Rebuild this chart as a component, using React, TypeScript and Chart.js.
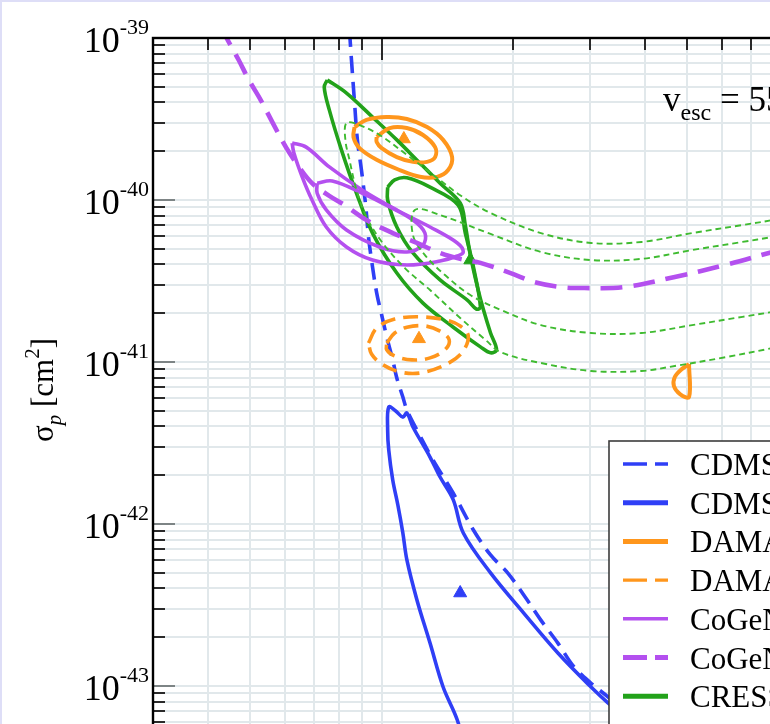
import { useEffect, useRef } from "react";
import { Chart, registerables } from "chart.js";

Chart.register(...registerables);

type Pair = [number, number];

// ---- axis ranges and ticks ----
const MASS_MIN = 3;
const MASS_MAX = 100;
const SIGMA_MIN = 1e-45;
const SIGMA_MAX = 1e-39;
const MASS_TICKS = [3, 4, 5, 6, 7, 8, 9, 10, 20, 30, 40, 50, 60, 70, 80, 90, 100];
const SIGMA_DECADES = [-39, -40, -41, -42, -43, -44, -45];
const SIGMA_MANTISSAS = [1, 2, 3, 4, 5, 6, 7, 8, 9];

// ---- CDMS-Si ----
const CDMS_DASHED: Pair[] = [
  [8.44, 1.12e-39], [8.53, 7.31e-40], [8.67, 3.97e-40], [8.8, 2.35e-40], [8.99, 1.53e-40],
  [9.19, 9.31e-41], [9.33, 5.91e-41], [9.48, 4.26e-41], [9.74, 2.67e-41], [10.0, 1.95e-41],
  [10.27, 1.43e-41], [10.6, 1.03e-41], [10.83, 7.96e-42], [11.18, 6.08e-42], [11.42, 5.06e-42],
  [12.04, 3.8e-42], [13.11, 2.48e-42], [14.58, 1.55e-42], [16.21, 9.18e-43], [17.74, 6.44e-43],
  [19.41, 4.99e-43], [21.13, 3.65e-43], [23.12, 2.55e-43], [25.29, 1.84e-43], [27.54, 1.31e-43],
  [30.11, 1.04e-43], [32.96, 8.55e-44], [39.28, 5.74e-44], [54.0, 3.03e-44],
];
const CDMS_SOLID: Pair[] = [
  [15.78, 3.49e-44], [14.89, 6.17e-44], [13.82, 9.86e-44], [12.9, 1.84e-43], [12.04, 3.4e-43],
  [11.42, 6.0e-43], [11.18, 8.8e-43], [10.89, 1.31e-42], [10.6, 1.87e-42], [10.38, 2.86e-42],
  [10.32, 3.8e-42], [10.38, 5.28e-42], [10.77, 4.98e-42], [11.18, 4.57e-42], [11.42, 4.84e-42],
  [11.79, 3.97e-42], [12.9, 2.59e-42], [13.6, 1.95e-42], [14.58, 1.41e-42], [15.37, 8.8e-43],
  [17.74, 4.99e-43], [21.13, 2.82e-43], [25.29, 1.6e-43], [30.11, 9.86e-44], [32.96, 7.85e-44],
  [41.45, 4.64e-44], [54.0, 2.82e-44],
];
const CDMS_BEST: Pair = [15.12, 3.75e-43];

// ---- DAMA ----
const DAMA_OUTER: Pair[] = [
  [8.67, 2.82e-40], [9.23, 3.12e-40], [10.27, 3.25e-40], [11.42, 3.16e-40], [12.7, 2.82e-40],
  [13.82, 2.35e-40], [14.49, 1.84e-40], [14.19, 1.53e-40], [13.39, 1.39e-40], [12.23, 1.39e-40],
  [11.0, 1.53e-40], [9.74, 1.77e-40], [8.9, 2.09e-40], [8.62, 2.45e-40], [8.67, 2.82e-40],
];
const DAMA_INNER: Pair[] = [
  [9.74, 2.45e-40], [10.43, 2.78e-40], [11.42, 2.78e-40], [12.43, 2.52e-40], [13.25, 2.12e-40],
  [13.25, 1.84e-40], [12.7, 1.72e-40], [11.79, 1.72e-40], [10.83, 1.84e-40], [10.0, 2.09e-40],
  [9.74, 2.28e-40], [9.74, 2.45e-40],
];
const DAMA_HIGH: Pair[] = [
  [50.45, 9.72e-42], [50.45, 6.08e-42], [48.1, 6.34e-42], [46.58, 7.11e-42], [46.8, 8.08e-42],
  [48.3, 8.93e-42], [50.45, 9.72e-42],
];
const DAMA_BEST: Pair = [11.24, 2.38e-40];

const DAMA_ALT_OUTER: Pair[] = [
  [9.33, 1.31e-41], [9.74, 1.62e-41], [10.71, 1.84e-41], [12.23, 1.9e-41], [13.96, 1.82e-41],
  [15.12, 1.67e-41], [15.78, 1.45e-41], [15.29, 1.15e-41], [13.96, 9.58e-42], [12.23, 8.55e-42],
  [11.0, 8.68e-42], [10.0, 9.72e-42], [9.48, 1.12e-41], [9.33, 1.31e-41],
];
const DAMA_ALT_INNER: Pair[] = [
  [10.27, 1.31e-41], [10.71, 1.51e-41], [11.42, 1.64e-41], [12.56, 1.67e-41], [13.6, 1.55e-41],
  [14.27, 1.37e-41], [13.96, 1.19e-41], [12.9, 1.06e-41], [11.73, 1.03e-41], [10.71, 1.09e-41],
  [10.27, 1.19e-41], [10.27, 1.31e-41],
];
const DAMA_ALT_BEST: Pair = [12.17, 1.39e-41];

// ---- CoGeNT ----
const COGENT_OUTER: Pair[] = [
  [6.24, 2.25e-40], [6.72, 2.12e-40], [7.59, 1.6e-40], [9.04, 1.15e-40], [10.83, 8.68e-41],
  [12.9, 6.81e-41], [14.89, 5.43e-41], [15.37, 4.78e-41], [14.89, 4.51e-41], [13.6, 4.2e-41],
  [11.42, 3.97e-41], [9.53, 4.26e-41], [8.31, 5.13e-41], [7.47, 6.81e-41], [6.93, 1.0e-40],
  [6.58, 1.39e-40], [6.3, 1.95e-40], [6.24, 2.25e-40],
];
const COGENT_INNER: Pair[] = [
  [7.12, 1.27e-40], [7.71, 1.31e-40], [9.04, 1.1e-40], [10.43, 9.06e-41], [11.79, 7.52e-41],
  [12.56, 6.25e-41], [12.43, 5.28e-41], [11.42, 4.78e-41], [9.89, 5.13e-41], [8.31, 6.53e-41],
  [7.47, 8.68e-41], [7.12, 1.1e-40], [7.12, 1.27e-40],
];
const COGENT_DASHED: Pair[] = [
  [4.28, 1.2e-39], [4.42, 1.0e-39], [4.71, 7.31e-40], [4.97, 5.51e-40], [5.29, 4.14e-40],
  [5.67, 2.9e-40], [6.04, 2.12e-40], [6.47, 1.6e-40], [6.93, 1.27e-40], [7.59, 1.06e-40],
  [8.22, 9.31e-41], [9.23, 7.52e-41], [10.6, 6.25e-41], [12.04, 5.43e-41], [13.6, 4.71e-41],
  [15.12, 4.33e-41], [16.82, 4.09e-41], [19.72, 3.54e-41], [22.29, 3.12e-41], [25.7, 2.9e-41],
  [29.04, 2.86e-41], [35.89, 2.9e-41], [46.8, 3.35e-41], [61.06, 3.97e-41], [78.3, 4.78e-41],
  [107.6, 6.08e-41],
];

// ---- CRESST ----
const CRESST_BIG: Pair[] = [
  [7.51, 5.51e-40], [8.31, 4.57e-40], [9.53, 3.25e-40], [10.83, 2.35e-40], [12.23, 1.69e-40],
  [13.6, 1.27e-40], [15.12, 9.58e-41], [15.53, 7.01e-41], [15.95, 4.57e-41], [16.56, 2.9e-41],
  [17.09, 2.1e-41], [17.74, 1.51e-41], [18.31, 1.19e-41], [17.74, 1.14e-41], [16.82, 1.24e-41],
  [14.58, 1.64e-41], [12.43, 2.31e-41], [10.83, 3.54e-41], [9.53, 6.25e-41], [8.76, 1.1e-40],
  [8.09, 2.04e-40], [7.59, 3.6e-40], [7.39, 4.98e-40], [7.51, 5.51e-40],
];
const CRESST_SMALL: Pair[] = [
  [10.32, 1.2e-40], [10.71, 1.33e-40], [11.42, 1.37e-40], [12.9, 1.2e-40], [14.96, 9.31e-41],
  [15.53, 6.25e-41], [16.21, 3.86e-41], [16.82, 2.19e-41], [16.47, 2.12e-41], [15.7, 2.41e-41],
  [13.6, 3.21e-41], [11.79, 4.71e-41], [10.83, 6.81e-41], [10.32, 1.0e-40], [10.32, 1.2e-40],
];
const CRESST_BEST: Pair = [15.95, 4.26e-41];

const CRESST_ALT_OUTER: Pair[] = [
  [107.6, 1.47e-41], [78.3, 1.22e-41], [61.06, 1.07e-41], [46.8, 9.45e-42], [39.28, 8.8e-42],
  [30.11, 8.8e-42], [23.12, 9.86e-42], [18.7, 1.15e-41], [17.27, 1.37e-41], [15.12, 1.87e-41],
  [12.9, 2.78e-41], [11.3, 3.8e-41], [10.05, 5.43e-41], [9.23, 7.85e-41], [8.76, 1.15e-40],
  [8.44, 1.77e-40], [8.26, 2.35e-40], [8.31, 2.99e-40], [8.9, 2.9e-40], [9.89, 2.52e-40],
  [11.42, 1.9e-40], [13.11, 1.43e-40], [15.12, 1.07e-40], [17.74, 8.31e-41], [23.12, 6.25e-41],
  [30.11, 5.43e-41], [39.28, 5.51e-41], [51.26, 6.25e-41], [66.84, 7.01e-41], [78.3, 7.52e-41],
  [107.6, 8.93e-41],
];
const CRESST_ALT_INNER: Pair[] = [
  [107.6, 2.41e-41], [78.3, 2.04e-41], [66.84, 1.9e-41], [51.26, 1.69e-41], [39.28, 1.51e-41],
  [30.11, 1.51e-41], [23.12, 1.69e-41], [18.7, 2.1e-41], [15.95, 2.59e-41], [13.96, 3.44e-41],
  [12.56, 4.57e-41], [11.79, 6.08e-41], [11.91, 8.68e-41], [13.6, 8.08e-41], [17.74, 6.17e-41],
  [23.12, 4.78e-41], [30.11, 4.26e-41], [39.28, 4.33e-41], [51.26, 4.91e-41], [66.84, 5.51e-41],
  [78.3, 5.91e-41], [107.6, 6.91e-41],
];

const LEGEND_LABELS = [
  "CDMS-Si  Maxwellian",
  "CDMS-Si  best-fit halo",
  "DAMA  best-fit halo",
  "DAMA  Maxwellian",
  "CoGeNT  best-fit halo",
  "CoGeNT  Maxwellian",
  "CRESST  best-fit halo",
  "CRESST  Maxwellian",
];
const ESCAPE_SPEED_NOTE = ["v", "esc", " = 550 km/s"];
const Y_TITLE = ["σ", "p", " [cm", "2", "]"];

// ---- styling ----
const BLUE = "#2f3ff6";
const ORANGE = "#ff961c";
const PURPLE = "#b450ef";
const GREEN = "#22a21a";
const GREEN_LIGHT = "#3fbb30";
const SERIF = '"Liberation Serif", "DejaVu Serif", serif';

type Style = { color: string; width: number; dash: number[] };
const STYLES: Style[] = [
  { color: BLUE, width: 3.6, dash: [17, 9] },
  { color: BLUE, width: 3.6, dash: [] },
  { color: ORANGE, width: 4, dash: [] },
  { color: ORANGE, width: 3.6, dash: [15, 8] },
  { color: PURPLE, width: 3.6, dash: [] },
  { color: PURPLE, width: 4.6, dash: [22, 11] },
  { color: GREEN, width: 3.6, dash: [] },
  { color: GREEN_LIGHT, width: 1.9, dash: [6, 4] },
];
const LEGEND_WIDTHS = [3.4, 5, 5, 3.4, 3.4, 5, 5, 2];

const curve = (pts: Pair[], s: Style) => ({
  data: pts.map(([x, y]) => ({ x, y })),
  showLine: true,
  borderColor: s.color,
  backgroundColor: s.color,
  borderWidth: s.width,
  borderDash: s.dash,
  borderJoinStyle: "round",
  pointRadius: 0,
  pointHoverRadius: 0,
  tension: 0.35,
  fill: false,
});

const marker = (p: Pair, color: string) => ({
  data: [{ x: p[0], y: p[1] }],
  showLine: false,
  pointStyle: "triangle",
  pointRadius: 7.5,
  pointHoverRadius: 7.5,
  borderWidth: 1,
  borderColor: color,
  backgroundColor: color,
});

const sigmaTicks = () => {
  const out: number[] = [];
  SIGMA_DECADES.forEach((e) =>
    SIGMA_MANTISSAS.forEach((m) => {
      const v = m * Math.pow(10, e);
      if (v >= SIGMA_MIN * 0.999 && v <= SIGMA_MAX * 1.001) out.push(v);
    })
  );
  return out.sort((a, b) => a - b);
};

const decorations = {
  id: "decorations",
  afterDatasetsDraw(chart: any) {
    const { ctx, chartArea: a, scales } = chart;
    const xs = scales.x;
    const ys = scales.y;
    ctx.save();
    ctx.lineCap = "butt";
    const seg = (x1: number, y1: number, x2: number, y2: number) => {
      ctx.beginPath();
      ctx.moveTo(x1, y1);
      ctx.lineTo(x2, y2);
      ctx.stroke();
    };
    // inward tick marks
    ctx.strokeStyle = "#2a2a2a";
    ctx.lineWidth = 2;
    MASS_TICKS.forEach((v) => {
      const px = Math.round(xs.getPixelForValue(v));
      const major = Math.abs(Math.log10(v) - Math.round(Math.log10(v))) < 1e-9;
      const len = major ? 22 : 12;
      seg(px, a.top, px, a.top + len);
      seg(px, a.bottom, px, a.bottom - len);
    });
    sigmaTicks().forEach((v) => {
      const py = Math.round(ys.getPixelForValue(v));
      const major = Math.abs(Math.log10(v) - Math.round(Math.log10(v))) < 1e-9;
      const len = major ? 22 : 12;
      ctx.strokeStyle = major ? "#7d8485" : "#2a2a2a";
      seg(a.left, py, a.left + len, py);
      seg(a.right, py, a.right - len, py);
    });
    // frame
    ctx.strokeStyle = "#000";
    ctx.lineWidth = 2.4;
    ctx.strokeRect(a.left, a.top, a.right - a.left, a.bottom - a.top);

    // legend box
    const bx = a.left + 456;
    const by = a.top + 403;
    ctx.fillStyle = "#fff";
    ctx.fillRect(bx, by, 400, 500);
    ctx.strokeStyle = "#3c3c3c";
    ctx.lineWidth = 1.6;
    ctx.strokeRect(bx, by, 400, 500);
    LEGEND_LABELS.forEach((label, i) => {
      const s = STYLES[i];
      const ly = by + 23 + i * 38.7;
      ctx.strokeStyle = s.color;
      ctx.lineWidth = LEGEND_WIDTHS[i];
      ctx.setLineDash(s.dash.length ? [24, 8] : []);
      seg(bx + 14, ly, bx + 59, ly);
      ctx.setLineDash([]);
      ctx.fillStyle = "#000";
      ctx.font = `31px ${SERIF}`;
      ctx.textAlign = "left";
      ctx.textBaseline = "alphabetic";
      ctx.fillText(label, bx + 81, ly + 11);
    });
    ctx.restore();
  },
  afterDraw(chart: any) {
    const { ctx, chartArea: a, scales } = chart;
    const ys = scales.y;
    ctx.save();
    ctx.fillStyle = "#000";
    ctx.textAlign = "left";
    ctx.textBaseline = "alphabetic";
    // decade labels 10^n
    SIGMA_DECADES.forEach((e) => {
      const py = ys.getPixelForValue(Math.pow(10, e));
      const base = "10";
      const sup = String(e);
      ctx.font = `36px ${SERIF}`;
      const wb = ctx.measureText(base).width;
      ctx.font = `22px ${SERIF}`;
      const ws = ctx.measureText(sup).width;
      const x0 = a.left - 4 - wb - ws;
      ctx.font = `36px ${SERIF}`;
      ctx.fillText(base, x0, py + 14);
      ctx.font = `22px ${SERIF}`;
      ctx.fillText(sup, x0 + wb, py - 4);
    });
    // rotated y-axis title
    const parts = [
      { t: Y_TITLE[0], f: `31px ${SERIF}`, dy: 0 },
      { t: Y_TITLE[1], f: `italic 21px ${SERIF}`, dy: 8 },
      { t: Y_TITLE[2], f: `31px ${SERIF}`, dy: 0 },
      { t: Y_TITLE[3], f: `21px ${SERIF}`, dy: -14 },
      { t: Y_TITLE[4], f: `31px ${SERIF}`, dy: 0 },
    ];
    let total = 0;
    parts.forEach((p) => {
      ctx.font = p.f;
      total += ctx.measureText(p.t).width;
    });
    ctx.translate(53, a.top + 352);
    ctx.rotate(-Math.PI / 2);
    let cx = -total / 2;
    parts.forEach((p) => {
      ctx.font = p.f;
      ctx.fillText(p.t, cx, p.dy);
      cx += ctx.measureText(p.t).width;
    });
    ctx.setTransform(1, 0, 0, 1, 0, 0);
    // escape speed annotation
    const nx = a.left + 510;
    const ny = a.top + 73;
    ctx.font = `35px ${SERIF}`;
    ctx.fillText(ESCAPE_SPEED_NOTE[0], nx, ny);
    let w = ctx.measureText(ESCAPE_SPEED_NOTE[0]).width;
    ctx.font = `24px ${SERIF}`;
    ctx.fillText(ESCAPE_SPEED_NOTE[1], nx + w, ny + 9);
    w += ctx.measureText(ESCAPE_SPEED_NOTE[1]).width;
    ctx.font = `35px ${SERIF}`;
    ctx.fillText(ESCAPE_SPEED_NOTE[2], nx + w, ny);
    ctx.restore();
  },
};

export default function App() {
  const ref = useRef<HTMLCanvasElement | null>(null);

  useEffect(() => {
    if (!ref.current) return;
    const datasets: any[] = [
      curve(COGENT_DASHED, STYLES[5]),
      curve(CRESST_ALT_OUTER, STYLES[7]),
      curve(CRESST_ALT_INNER, STYLES[7]),
      curve(COGENT_OUTER, STYLES[4]),
      curve(COGENT_INNER, STYLES[4]),
      curve(DAMA_OUTER, STYLES[2]),
      curve(DAMA_INNER, STYLES[2]),
      curve(DAMA_HIGH, STYLES[2]),
      curve(DAMA_ALT_OUTER, STYLES[3]),
      curve(DAMA_ALT_INNER, STYLES[3]),
      curve(CRESST_BIG, STYLES[6]),
      curve(CRESST_SMALL, STYLES[6]),
      curve(CDMS_DASHED, STYLES[0]),
      curve(CDMS_SOLID, STYLES[1]),
      marker(DAMA_BEST, ORANGE),
      marker(DAMA_ALT_BEST, ORANGE),
      marker(CRESST_BEST, GREEN),
      marker(CDMS_BEST, BLUE),
    ];
    const chart = new Chart(ref.current, {
      type: "scatter",
      data: { datasets },
      options: {
        animation: false,
        responsive: false,
        events: [],
        layout: { padding: { left: 153, top: 38, right: 21, bottom: 30 } },
        elements: { line: { capBezierPoints: false } },
        plugins: { legend: { display: false }, tooltip: { enabled: false } },
        scales: {
          x: {
            type: "logarithmic",
            min: MASS_MIN,
            max: MASS_MAX,
            afterBuildTicks: (s: any) => {
              s.ticks = MASS_TICKS.map((value) => ({ value }));
            },
            ticks: { display: false },
            grid: { color: "#e1e8eb", lineWidth: 2, drawTicks: false },
            border: { display: false },
          },
          y: {
            type: "logarithmic",
            min: SIGMA_MIN,
            max: SIGMA_MAX,
            afterBuildTicks: (s: any) => {
              s.ticks = sigmaTicks().map((value) => ({ value }));
            },
            ticks: { display: false },
            grid: { color: "#e1e8eb", lineWidth: 2, drawTicks: false },
            border: { display: false },
          },
        },
      },
      plugins: [decorations],
    } as any);
    return () => chart.destroy();
  }, []);

  return (
    <div
      style={{
        position: "fixed",
        left: 0,
        top: 0,
        width: 770,
        height: 724,
        overflow: "hidden",
        background: "#fff",
      }}
    >
      <canvas
        ref={ref}
        width={840}
        height={1040}
        style={{ position: "absolute", left: 0, top: 0, width: 840, height: 1040 }}
      />
      <div style={{ position: "absolute", left: 0, top: 0, width: 770, height: 2, background: "#dedef7" }} />
      <div style={{ position: "absolute", left: 0, top: 0, width: 2, height: 724, background: "#dedef7" }} />
    </div>
  );
}
